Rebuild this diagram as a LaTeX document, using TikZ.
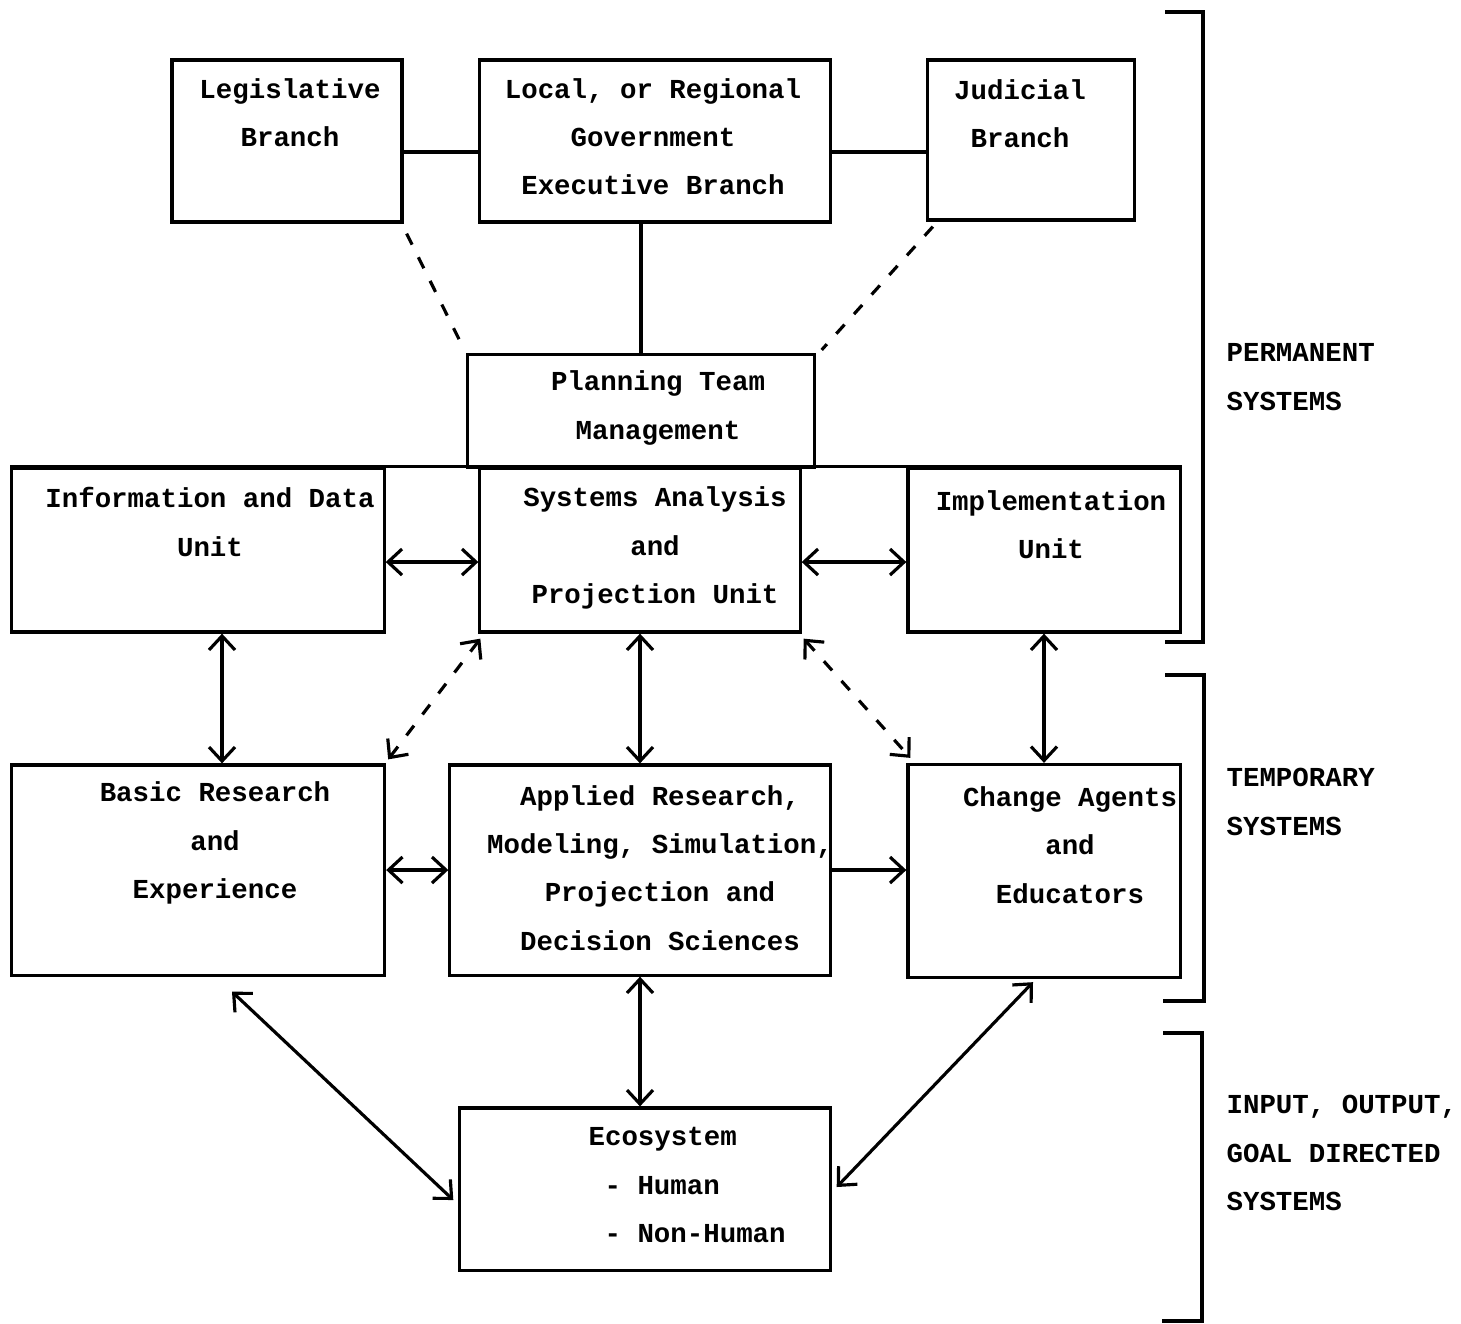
\documentclass[tikz,border=0pt]{standalone}
\usepackage{fontspec}
\setmonofont{Liberation Mono}
\usetikzlibrary{arrows.meta}

\begin{document}
\begin{tikzpicture}[
    x=0.01cm, y=-0.01cm,
    >={Straight Barb[length=1.4mm,width=2.6mm]},
    line width=0.9pt,
    font=\ttfamily\bfseries\fontsize{7.8}{13.7}\selectfont,
    unit/.style={draw, inner sep=0pt},
    txt/.style={align=center, inner sep=0pt},
    link/.style={dash pattern=on 3.5pt off 4pt}
]
    \useasboundingbox (0,0) rectangle (1461,1323);

    % Government boxes
    \node[unit, minimum width=2.30cm, minimum height=1.62cm] (leg) at (287,141) {};
    \node[unit, minimum width=3.50cm, minimum height=1.62cm] (gov) at (655,141) {};
    \node[unit, minimum width=2.07cm, minimum height=1.60cm] (jud) at (1031,140) {};
    \node[txt] (leg-t) at (290,113) {Legislative\\Branch};
    \node[txt] (gov-t) at (653,137) {Local, or Regional\\Government\\Executive Branch};
    \node[txt] (jud-t) at (1020,114) {Judicial\\Branch};

    % Planning team and its units
    \node[unit, minimum width=3.46cm, minimum height=1.13cm] (plan) at (641,411) {};
    \node[unit, minimum width=3.72cm, minimum height=1.64cm] (info) at (198,550) {};
    \node[unit, minimum width=3.20cm, minimum height=1.64cm] (sys)  at (640,550) {};
    \node[unit, minimum width=2.72cm, minimum height=1.64cm] (impl) at (1044,550) {};
    \draw (info.north west) -- (impl.north east);
    \node[txt] (plan-t) at (658,408) {Planning Team\\Management};
    \node[txt] (info-t) at (210,522) {Information and Data\\Unit};
    \node[txt] (sys-t)  at (655,548) {Systems Analysis\\and\\Projection Unit};
    \node[txt] (impl-t) at (1051,525) {Implementation\\Unit};

    % Research and change boxes
    \node[unit, minimum width=3.73cm, minimum height=2.10cm] (basic) at (198,870) {};
    \node[unit, minimum width=3.80cm, minimum height=2.10cm] (appl)  at (640,870) {};
    \node[unit, minimum width=2.72cm, minimum height=2.13cm] (chg)   at (1044,871) {};
    \node[txt] (basic-t) at (215,843) {Basic Research\\and\\Experience};
    \node[txt] (appl-t)  at (660,868) {Applied Research,\\Modeling, Simulation,\\Projection and\\Decision Sciences};
    \node[txt] (chg-t)   at (1070,845) {Change Agents\\and\\Educators};

    % Ecosystem
    \node[unit, minimum width=3.70cm, minimum height=1.62cm] (eco) at (645,1189) {};
    \node[txt, align=left, anchor=west] (eco-t) at (587,1185)
        {Ecosystem\\\hspace*{1.6mm}- Human\\\hspace*{1.6mm}- Non-Human};

    % Government links
    \draw ([yshift=-1.1mm]leg.east) -- ([yshift=-1.1mm]gov.west);
    \draw ([yshift=-1.1mm]gov.east) -- ([yshift=-1.1mm]gov.east -| jud.west);
    \draw (plan.north) -- (plan.north |- gov.south);
    \draw[link] ([shift={(3,10)}]leg.south east) -- ([shift={(-3,-5)}]plan.north west);
    \draw[link] ([shift={(7,5)}]jud.south west) -- ([shift={(6,-3)}]plan.north east);

    % Unit links
    \draw[<->] ([yshift=-1.2mm]info.east) -- ([yshift=-1.2mm]sys.west);
    \draw[<->] ([yshift=-1.2mm]sys.east) -- ([yshift=-1.2mm]impl.west);
    \draw[<->] ([xshift=2.4mm]info.south) -- ([xshift=2.4mm]basic.north);
    \draw[<->] (sys.south) -- (appl.north);
    \draw[<->] (impl.south) -- (chg.north);
    \draw[<->, link] ([shift={(2,5)}]sys.south west) -- ([shift={(2,-4)}]basic.north east);
    \draw[<->, link] ([shift={(2,5)}]sys.south east) -- ([shift={(4,-5)}]chg.north west);

    % Research links
    \draw[<->] (basic.east) -- (appl.west);
    \draw[->] (appl.east) -- (appl.east -| chg.west);
    \draw[<->] (appl.south) -- (appl.south |- eco.north);
    \draw[<->] ([shift={(34,15)}]basic.south) -- ([shift={(-5,11)}]eco.west);
    \draw[<->] ([shift={(-11,3)}]chg.south) -- ([shift={(5,-2)}]eco.east);

    % Brackets
    \draw (1165,12) -- (1203,12) -- (1203,642) -- (1165,642);
    \draw (1165,675) -- (1204,675) -- (1204,1001) -- (1163,1001);
    \draw (1163,1033) -- (1202,1033) -- (1202,1321) -- (1162,1321);
    \node[txt, align=left, anchor=west] (perm)  at (1225,377)  {PERMANENT\\SYSTEMS};
    \node[txt, align=left, anchor=west] (temp)  at (1225,802)  {TEMPORARY\\SYSTEMS};
    \node[txt, align=left, anchor=west] (input) at (1225,1153) {INPUT, OUTPUT,\\GOAL DIRECTED\\SYSTEMS};

\end{tikzpicture}
\end{document}
